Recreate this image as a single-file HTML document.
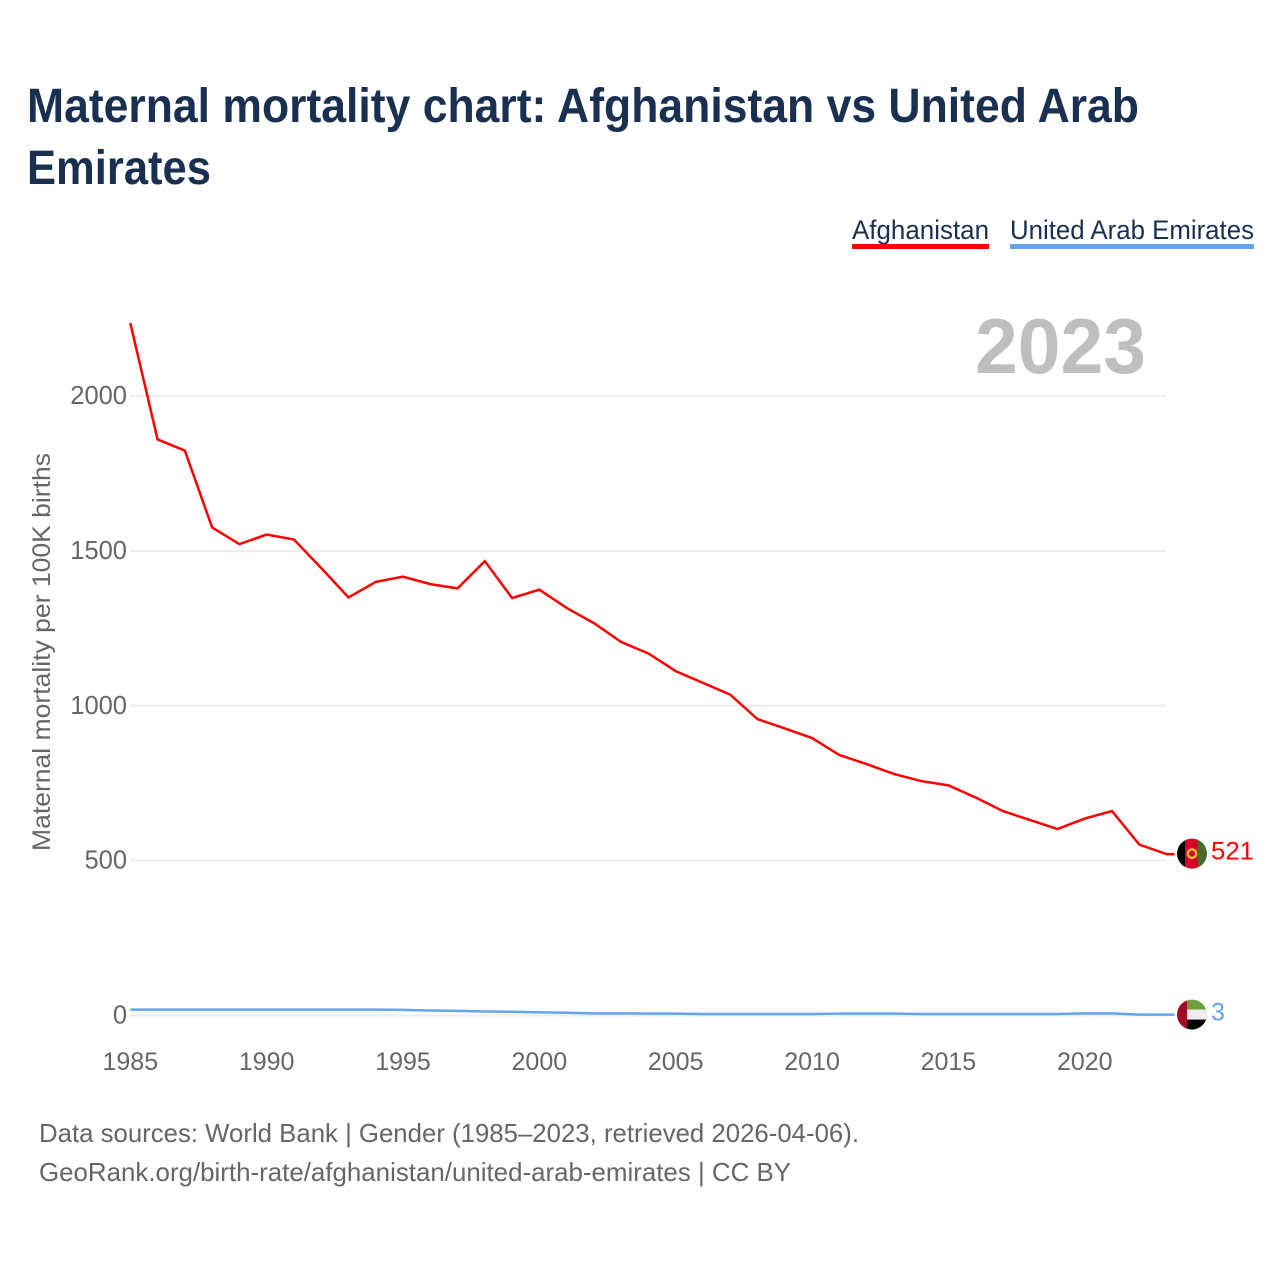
<!DOCTYPE html>
<html lang="en">
<head>
<meta charset="utf-8">
<title>Maternal mortality chart: Afghanistan vs United Arab Emirates</title>
<style>
html,body{margin:0;padding:0;background:#fff;}
svg{display:block;font-family:"Liberation Sans",sans-serif;}
</style>
</head>
<body>
<svg id="chart" xmlns="http://www.w3.org/2000/svg" width="1280" height="1280" viewBox="0 0 1280 1280">
  <defs>
    <clipPath id="flag-clip"><circle cx="0" cy="0" r="15"></circle></clipPath>
  </defs>
  <rect x="0" y="0" width="1280" height="1280" fill="#ffffff"></rect>
  <g fill="#1a3050" font-size="48" font-weight="700">
    <text x="27" y="122" textLength="1112" lengthAdjust="spacingAndGlyphs">Maternal mortality chart: Afghanistan vs United Arab</text>
    <text x="27" y="184" textLength="184" lengthAdjust="spacingAndGlyphs">Emirates</text>
  </g>
  <g font-size="27" fill="#1a3050">
    <g>
      <text x="852" y="239" textLength="137" lengthAdjust="spacingAndGlyphs">Afghanistan</text>
      <rect x="852" y="244" width="137" height="5" fill="#ff0000"></rect>
    </g>
    <g>
      <text x="1010" y="239" textLength="244" lengthAdjust="spacingAndGlyphs">United Arab Emirates</text>
      <rect x="1010" y="244" width="244" height="5" fill="#62a5ee"></rect>
    </g>
  </g>
  <text x="975" y="373" font-size="78" font-weight="700" fill="#bfbfbf" textLength="171" lengthAdjust="spacingAndGlyphs">2023</text>
  <text transform="translate(50,851) rotate(-90)" font-size="25" fill="#666666" textLength="398" lengthAdjust="spacingAndGlyphs">Maternal mortality per 100K births</text>
  <g id="grid"></g>
  <g id="y-ticks"></g>
  <g id="x-ticks"></g>
  <g id="series"></g>
  <g id="flag-af">
    <g clip-path="url(#flag-clip)">
      <rect x="-15" y="-15" width="8" height="30" fill="#000000"></rect>
      <rect x="-7" y="-15" width="13" height="30" fill="#d90026"></rect>
      <rect x="6" y="-15" width="9" height="30" fill="#4a6b2c"></rect>
      <circle cx="0" cy="0" r="4.2" fill="none" stroke="#f5b83a" stroke-width="2.4"></circle>
    </g>
  </g>
  <g id="flag-ae">
    <g clip-path="url(#flag-clip)">
      <rect x="-15" y="-15" width="30" height="10" fill="#6aa03f"></rect>
      <rect x="-15" y="-5" width="30" height="10" fill="#eeeeee"></rect>
      <rect x="-15" y="5" width="30" height="10" fill="#000000"></rect>
      <rect x="-15" y="-15" width="10" height="30" fill="#a00c24"></rect>
    </g>
  </g>
  <text id="label-af" x="1211" font-size="25" fill="#ff0000" textLength="43" lengthAdjust="spacingAndGlyphs"></text>
  <text id="label-ae" x="1211" font-size="25" fill="#62a5ee"></text>
  <g font-size="26" fill="#666666">
    <text x="39" y="1142" textLength="820" lengthAdjust="spacingAndGlyphs">Data sources: World Bank | Gender (1985–2023, retrieved 2026-04-06).</text>
    <text x="39" y="1181" textLength="752" lengthAdjust="spacingAndGlyphs">GeoRank.org/birth-rate/afghanistan/united-arab-emirates | CC BY</text>
  </g>
</svg>
<script>
var years = [1985,1986,1987,1988,1989,1990,1991,1992,1993,1994,1995,1996,1997,1998,1999,2000,2001,2002,2003,2004,2005,2006,2007,2008,2009,2010,2011,2012,2013,2014,2015,2016,2017,2018,2019,2020,2021,2022,2023];
var afghanistan = [2236,1860,1824,1576,1522,1553,1537,1445,1350,1400,1417,1393,1379,1467,1348,1375,1316,1267,1206,1169,1112,1074,1036,957,927,896,841,812,780,757,743,704,660,631,602,636,660,552,521];
var uae = [19,19,19,19,19,19,19,19,19,19,18,16,15,13,12,10,9,7,7,6,6,5,5,5,5,5,6,6,6,5,5,5,5,5,5,7,7,3,3];
var yTickValues = [0,500,1000,1500,2000];
var xTickValues = [1985,1990,1995,2000,2005,2010,2015,2020];

var NS = 'http://www.w3.org/2000/svg';
function xScale(year) { return 130.3 + (year - 1985) * 27.27; }
function yScale(value) { return 1015.5 - value * 0.3097; }

var gridGroup = document.getElementById('grid');
var yTickGroup = document.getElementById('y-ticks');
var xTickGroup = document.getElementById('x-ticks');
var seriesGroup = document.getElementById('series');

yTickValues.forEach(function (value) {
  var line = document.createElementNS(NS, 'line');
  
  
  line.setAttribute('x1', 130);
  line.setAttribute('x2', 1166);
  line.setAttribute('y1', yScale(value));
  line.setAttribute('y2', yScale(value));
  line.setAttribute('stroke', '#eeeeee');
  line.setAttribute('stroke-width', 2);
  gridGroup.appendChild(line);

  var label = document.createElementNS(NS, 'text');
  
  
  label.setAttribute('x', 127);
  label.setAttribute('y', yScale(value) + 8);
  label.setAttribute('text-anchor', 'end');
  label.setAttribute('font-size', 25.5);
  label.setAttribute('fill', '#666666');
  label.textContent = String(value);
  yTickGroup.appendChild(label);
});

xTickValues.forEach(function (year) {
  var label = document.createElementNS(NS, 'text');
  
  
  label.setAttribute('x', xScale(year));
  label.setAttribute('y', 1070);
  label.setAttribute('text-anchor', 'middle');
  label.setAttribute('font-size', 25);
  label.setAttribute('fill', '#666666');
  label.textContent = String(year);
  xTickGroup.appendChild(label);
});

function pathFor(values) {
  var d = values.map(function (value, i) {
    return (i ? 'L' : 'M') + xScale(years[i]).toFixed(2) + ' ' + yScale(value).toFixed(2);
  }).join(' ');
  var last = values[values.length - 1];
  return d + ' L' + (xScale(years[years.length - 1]) + 8).toFixed(2) + ' ' + yScale(last).toFixed(2);
}

var afPath = document.createElementNS(NS, 'path');


afPath.setAttribute('d', pathFor(afghanistan));
afPath.setAttribute('fill', 'none');
afPath.setAttribute('stroke', '#ff0000');
afPath.setAttribute('stroke-width', 2.5);
seriesGroup.appendChild(afPath);

var aePath = document.createElementNS(NS, 'path');


aePath.setAttribute('d', pathFor(uae));
aePath.setAttribute('fill', 'none');
aePath.setAttribute('stroke', '#62a5ee');
aePath.setAttribute('stroke-width', 2.5);
seriesGroup.appendChild(aePath);

var afLast = afghanistan[afghanistan.length - 1];
var aeLast = uae[uae.length - 1];
document.getElementById('flag-af').setAttribute('transform', 'translate(1192,' + (yScale(afLast) - 0.5) + ')');
document.getElementById('flag-ae').setAttribute('transform', 'translate(1192,' + yScale(aeLast) + ')');
var afLabel = document.getElementById('label-af');
afLabel.setAttribute('y', yScale(afLast) + 5.5);
afLabel.textContent = String(afLast);
var aeLabel = document.getElementById('label-ae');
aeLabel.setAttribute('y', yScale(aeLast) + 6);
aeLabel.textContent = String(aeLast);
</script>
</body>
</html>
